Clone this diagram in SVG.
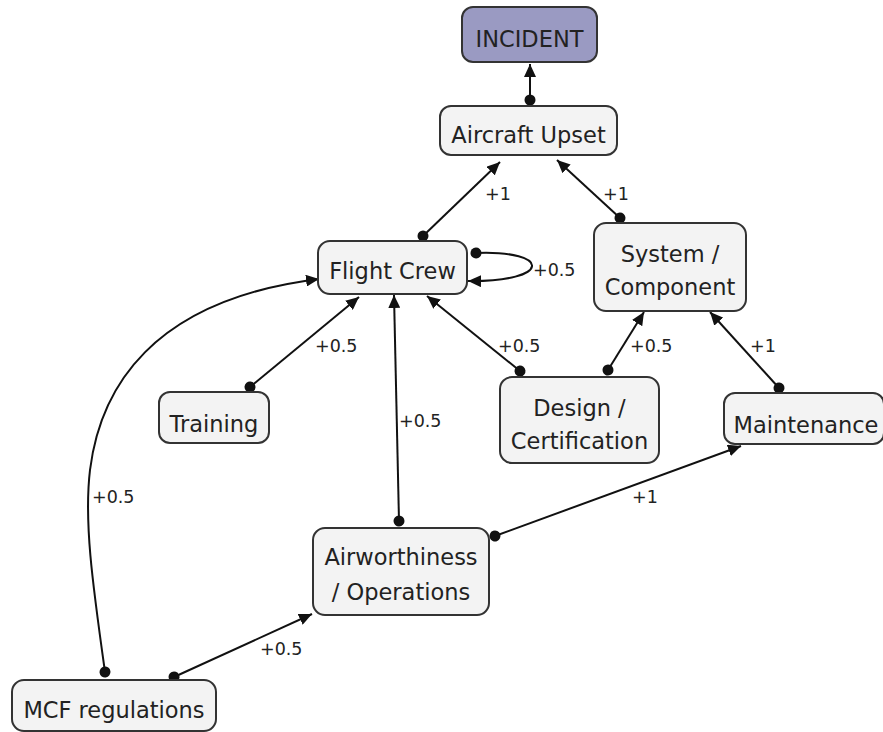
<svg xmlns="http://www.w3.org/2000/svg" width="883" height="732" viewBox="0 0 883 732">
  <style>
    .node rect { fill: #f3f3f3; stroke: #333333; stroke-width: 2; }
    #incident rect { fill: #9a9ac2; }
    .node text { font-family: "DejaVu Sans", Verdana, sans-serif; font-size: 22.5px; fill: #222222; text-anchor: middle; }
    .edge { fill: none; stroke: #111111; stroke-width: 2; marker-start: url(#dot); marker-end: url(#arrow); }
    .lbl { font-family: "DejaVu Sans", Verdana, sans-serif; font-size: 17.5px; fill: #222222; }
  </style>
  <defs>
    <marker id="arrow" markerUnits="userSpaceOnUse" markerWidth="14" markerHeight="12" refX="13" refY="6" orient="auto">
      <path d="M0,0 L13,6 L0,12 Z" fill="#111111"/>
    </marker>
    <marker id="dot" markerUnits="userSpaceOnUse" markerWidth="12" markerHeight="12" refX="6" refY="6" orient="auto">
      <circle cx="6" cy="6" r="5.5" fill="#111111"/>
    </marker>
  </defs>

  <!-- connectors: each edge starts with a dot at the source and ends with an arrowhead at the target -->
  <g id="connectors">
    <path class="edge" d="M530,100 L530,64"/>
    <path class="edge" d="M423,236 L500,162"/>
    <path class="edge" d="M620,218 L557,160"/>
    <path class="edge" d="M476,253 C552,250 552,282 468,281"/>
    <path class="edge" d="M250,387 L359,297"/>
    <path class="edge" d="M399,521 L394,295"/>
    <path class="edge" d="M520,371 L427,296"/>
    <path class="edge" d="M608,370 L644,312"/>
    <path class="edge" d="M779,388 L710,312"/>
    <path class="edge" d="M495,536 L741,446"/>
    <path class="edge" d="M174,677 L312,614"/>
    <path class="edge" d="M105,672 C92,580 84,520 90,470 C100,390 150,300 319,279"/>

    <text class="lbl" x="485" y="200">+1</text>
    <text class="lbl" x="603" y="200">+1</text>
    <text class="lbl" x="533" y="276">+0.5</text>
    <text class="lbl" x="315" y="352">+0.5</text>
    <text class="lbl" x="399" y="427">+0.5</text>
    <text class="lbl" x="498" y="352">+0.5</text>
    <text class="lbl" x="630" y="352">+0.5</text>
    <text class="lbl" x="750" y="352">+1</text>
    <text class="lbl" x="632" y="503">+1</text>
    <text class="lbl" x="260" y="655">+0.5</text>
    <text class="lbl" x="92" y="503">+0.5</text>
  </g>

  <g id="incident" class="node">
    <rect x="462" y="7" width="135" height="55" rx="11"/>
    <text x="529.5" y="47">INCIDENT</text>
  </g>
  <g id="aircraft-upset" class="node">
    <rect x="440" y="106" width="177" height="49" rx="11"/>
    <text x="528.5" y="143">Aircraft Upset</text>
  </g>
  <g id="flight-crew" class="node">
    <rect x="318" y="241" width="149" height="53" rx="12"/>
    <text x="392.5" y="279">Flight Crew</text>
  </g>
  <g id="system-component" class="node">
    <rect x="594" y="223" width="152" height="88" rx="12"/>
    <text x="670" y="262">System /</text>
    <text x="670" y="295">Component</text>
  </g>
  <g id="training" class="node">
    <rect x="159" y="392" width="110" height="51" rx="11"/>
    <text x="214" y="432">Training</text>
  </g>
  <g id="design-certification" class="node">
    <rect x="500" y="377" width="159" height="86" rx="12"/>
    <text x="579.5" y="416">Design /</text>
    <text x="579.5" y="449">Certification</text>
  </g>
  <g id="maintenance" class="node">
    <rect x="724" y="393" width="160" height="51" rx="11"/>
    <text x="806" y="433">Maintenance</text>
  </g>
  <g id="airworthiness-operations" class="node">
    <rect x="313" y="528" width="176" height="87" rx="12"/>
    <text x="401" y="565">Airworthiness</text>
    <text x="401" y="600">/ Operations</text>
  </g>
  <g id="mcf-regulations" class="node">
    <rect x="12" y="680" width="204" height="51" rx="12"/>
    <text x="114" y="718">MCF regulations</text>
  </g>
</svg>
